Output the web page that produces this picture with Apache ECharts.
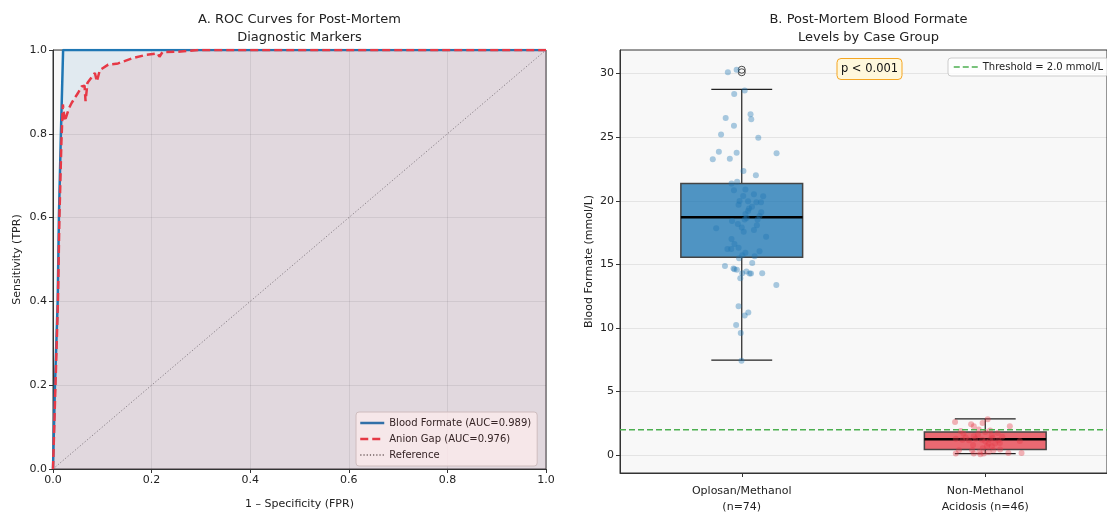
<!DOCTYPE html>
<html>
<head>
<meta charset="utf-8">
<script src="https://cdn.jsdelivr.net/npm/echarts/dist/echarts.min.js"></script>
<style>
html,body{margin:0;padding:0;background:#fff;}
#chart{width:1107px;height:515px;}
</style>
</head>
<body>
<div id="chart"></div>
<script>
// ---------- Data ----------
const rocBlueFormate = [[0,0],[0.004,0.2],[0.0095,0.4],[0.012,0.6],[0.016,0.8],[0.0205,1.0],[1,1]];
const rocRedAnionGap = [[0,0],[0.005,0.2],[0.01,0.4],[0.013,0.6],[0.017,0.78],[0.02,0.87],[0.024,0.83],[0.032,0.86],[0.038,0.874],[0.051,0.898],[0.058,0.913],[0.064,0.915],[0.066,0.878],[0.07,0.922],[0.085,0.945],[0.089,0.925],[0.095,0.952],[0.112,0.965],[0.132,0.968],[0.16,0.98],[0.187,0.988],[0.212,0.992],[0.216,0.984],[0.222,0.995],[0.254,0.996],[0.294,1.0],[1,1]];
const rocReference = [[0,0],[1,1]];
const rocNames = ['Blood Formate (AUC=0.989)','Anion Gap (AUC=0.976)','Reference'];

const groupLabels = ['Oplosan/Methanol\n(n=74)','Non-Methanol\nAcidosis (n=46)'];
const groupPositions = [1,2];
// [position, whiskerLow, Q1, median, Q3, whiskerHigh]
const boxStats = [[1,7.47,15.55,18.71,21.36,28.75],[2,0.13,0.44,1.25,1.83,2.85]];
const outliers = [[1,30.1],[1,30.3]];
const formateTicks = [0,5,10,15,20,25,30];
const thresholdValue = 2.0;
const thresholdName = 'Threshold = 2.0 mmol/L';
const pLabel = 'p < 0.001';

const pointsOplosan = [
[0.943,30.1],[0.979,30.3],[1.012,28.66],[0.969,28.4],[0.934,26.5],[1.036,26.8],[1.039,26.4],[0.968,25.9],
[0.915,25.2],[1.068,24.96],[0.906,23.86],[0.979,23.78],[0.881,23.26],[0.951,23.3],[1.143,23.73],[1.007,22.34],
[1.058,22.0],[0.958,21.35],[0.981,21.5],[0.968,20.83],[1.015,20.88],[1.006,20.38],[1.05,20.52],[1.088,20.36],
[0.991,19.99],[1.026,19.97],[1.06,19.89],[1.079,19.89],[0.987,19.68],[1.042,19.52],[1.026,19.2],[1.08,19.1],
[1.015,18.95],[1.073,18.8],[1.02,18.64],[1.012,18.53],[1.065,18.53],[0.984,18.17],[1.062,18.07],[1.0,17.9],
[0.895,17.83],[1.008,17.57],[1.1,17.17],[0.958,16.99],[0.97,16.6],[0.941,16.2],[0.957,16.2],[0.987,16.3],
[1.015,15.92],[1.073,16.03],[1.002,15.72],[0.989,15.48],[1.053,15.64],[1.043,15.11],[0.931,14.88],[0.966,14.67],
[0.97,14.62],[0.98,14.57],[1.019,14.43],[1.032,14.28],[1.038,14.28],[1.002,14.3],[1.084,14.3],[0.994,13.9],
[1.142,13.37],[0.987,11.7],[1.027,11.22],[1.012,10.99],[0.977,10.23],[0.996,9.6],[0.999,7.42],
[1.03,19.4],[0.96,18.4],[1.05,17.7]
];
const pointsNonMethanol = [
[1.876,2.61],[1.942,2.43],[1.953,2.27],[1.989,2.53],[2.01,2.82],[2.101,2.27],[1.899,1.91],[1.973,2.01],
[2.0,1.83],[2.027,1.57],[2.051,1.75],[1.879,1.3],[1.906,1.22],[1.953,1.49],[2.054,1.17],[2.02,1.22],
[1.933,1.17],[1.96,1.3],[1.987,1.22],[2.014,0.91],[2.04,0.91],[2.027,0.71],[2.007,0.71],[2.142,1.12],
[1.892,0.39],[1.946,0.39],[1.976,0.26],[2.014,0.26],[2.034,0.39],[2.061,0.44],[2.095,0.18],[2.149,0.18],
[1.879,0.13],[1.953,0.13],[1.98,0.08],[1.994,0.13],
[1.92,1.4],[1.97,1.6],[2.0,1.1],[2.03,1.35],[2.07,1.45],[1.99,0.55],[1.95,0.8],[2.06,0.95],[1.91,1.7],[2.02,1.95]
];

// ---------- Styles ----------
const FONT = 'DejaVu Sans';
const BLUE = '#1f77b4';
const RED = '#e63946';
const GREEN = '#4caf50';
const boxFills = ['rgba(31,119,180,0.78)','rgba(230,57,70,0.75)'];

function renderBox(params, api) {
  const x = api.value(0), lo = api.value(1), q1 = api.value(2), med = api.value(3), q3 = api.value(4), hi = api.value(5);
  const hw = 0.25, cw = 0.125;
  const tl = api.coord([x - hw, q3]), br = api.coord([x + hw, q1]);
  const pLo = api.coord([x, lo]), pHi = api.coord([x, hi]);
  const pQ1 = api.coord([x, q1]), pQ3 = api.coord([x, q3]);
  const cl = api.coord([x - cw, lo]), cr = api.coord([x + cw, lo]);
  const ml = api.coord([x - hw, med]), mr = api.coord([x + hw, med]);
  const ws = {stroke:'#222', lineWidth:1.2};
  return {type:'group', children:[
    {type:'line', shape:{x1:pLo[0],y1:pLo[1],x2:pQ1[0],y2:pQ1[1]}, style:ws},
    {type:'line', shape:{x1:pQ3[0],y1:pQ3[1],x2:pHi[0],y2:pHi[1]}, style:ws},
    {type:'line', shape:{x1:cl[0],y1:pLo[1],x2:cr[0],y2:pLo[1]}, style:ws},
    {type:'line', shape:{x1:cl[0],y1:pHi[1],x2:cr[0],y2:pHi[1]}, style:ws},
    {type:'rect', shape:{x:tl[0],y:tl[1],width:br[0]-tl[0],height:br[1]-tl[1]}, style:{fill:boxFills[params.dataIndex], stroke:'#444', lineWidth:1.5}},
    {type:'line', shape:{x1:ml[0],y1:ml[1],x2:mr[0],y2:mr[1]}, style:{stroke:'#000', lineWidth:2.5}}
  ]};
}

const axisText = {fontFamily:FONT, fontSize:11, color:'#222'};
const chart = echarts.init(document.getElementById('chart'), null, {renderer:'canvas'});
chart.setOption({
  backgroundColor:'#fff',
  animation:false,
  textStyle:{fontFamily:FONT},
  title:[
    {text:'A. ROC Curves for Post-Mortem\nDiagnostic Markers', left:299.5, top:11, textAlign:'center', padding:0,
     textStyle:{fontFamily:FONT, fontSize:13, fontWeight:'normal', lineHeight:18, color:'#222'}},
    {text:'B. Post-Mortem Blood Formate\nLevels by Case Group', left:868.5, top:11, textAlign:'center', padding:0,
     textStyle:{fontFamily:FONT, fontSize:13, fontWeight:'normal', lineHeight:18, color:'#222'}},
    {text:pLabel, left:865.5, top:58, textAlign:'center', padding:[3,4,3,4],
     backgroundColor:'#fff8dc', borderColor:'#f5a623', borderWidth:1, borderRadius:4,
     textStyle:{fontFamily:FONT, fontSize:11.5, fontWeight:'normal', lineHeight:16, color:'#111'}}
  ],
  legend:[
    {data:[{name:rocNames[0], lineStyle:{width:2.5}},{name:rocNames[1], lineStyle:{width:2.5}},{name:rocNames[2]}],
     orient:'vertical', left:356, top:412, padding:[6,6,6,3], itemGap:6, itemWidth:24, itemHeight:10,
     backgroundColor:'rgba(255,255,255,0.8)', borderColor:'#ccc', borderWidth:1, borderRadius:3, selectedMode:false,
     itemStyle:{opacity:0},
     textStyle:{fontFamily:FONT, fontSize:10, color:'#222'}},
    {data:[{name:thresholdName, lineStyle:{width:1.5}}], orient:'vertical', left:948, top:58, padding:[4,5,4,5], itemWidth:24, itemHeight:10,
     backgroundColor:'rgba(255,255,255,0.8)', borderColor:'#ccc', borderWidth:1, borderRadius:3, selectedMode:false,
     itemStyle:{opacity:0},
     textStyle:{fontFamily:FONT, fontSize:10, color:'#222'}}
  ],
  grid:[
    {left:53, right:561, top:50, bottom:41, show:true, backgroundColor:'#f8f8f8', borderColor:'#333', borderWidth:1},
    {left:620, right:-10, top:50, bottom:41, show:true, backgroundColor:'#f8f8f8', borderColor:'#333', borderWidth:1}
  ],
  xAxis:[
    {gridIndex:0, type:'value', min:0, max:1, interval:0.2,
     name:'1 – Specificity (FPR)', nameLocation:'middle', nameGap:30, nameTextStyle:axisText,
     axisLine:{show:true, onZero:false, lineStyle:{color:'#333'}}, axisTick:{show:true, length:4, lineStyle:{color:'#333'}},
     axisLabel:{...axisText, margin:6, formatter:v=>v.toFixed(1)},
     splitLine:{show:true, lineStyle:{color:'rgba(0,0,0,0.08)', width:1}}},
    {gridIndex:1, type:'value', min:0.5, max:2.5,
     axisLine:{show:true, onZero:false, lineStyle:{color:'#333'}},
     axisTick:{show:true, length:4, customValues:groupPositions, lineStyle:{color:'#333'}},
     axisLabel:{...axisText, margin:10, lineHeight:16, customValues:groupPositions, formatter:v=>groupLabels[Math.round(v)-1]},
     splitLine:{show:false}}
  ],
  yAxis:[
    {gridIndex:0, type:'value', min:0, max:1, interval:0.2,
     name:'Sensitivity (TPR)', nameLocation:'middle', nameGap:30, nameTextStyle:axisText,
     axisLine:{show:true, onZero:false, lineStyle:{color:'#333'}}, axisTick:{show:true, length:4, lineStyle:{color:'#333'}},
     axisLabel:{...axisText, margin:6, formatter:v=>v.toFixed(1)},
     splitLine:{show:true, lineStyle:{color:'rgba(0,0,0,0.08)', width:1}}},
    {gridIndex:1, type:'value', min:-1.4, max:31.85,
     name:'Blood Formate (mmol/L)', nameLocation:'middle', nameGap:25, nameTextStyle:axisText,
     axisLine:{show:true, onZero:false, lineStyle:{color:'#333'}},
     axisTick:{show:true, length:4, customValues:formateTicks, lineStyle:{color:'#333'}},
     axisLabel:{...axisText, margin:6, customValues:formateTicks},
     splitLine:{show:true, lineStyle:{color:'rgba(0,0,0,0.08)', width:1}}}
  ],
  series:[
    {name:rocNames[0], type:'line', xAxisIndex:0, yAxisIndex:0, data:rocBlueFormate, symbol:'none', z:3,
     lineStyle:{color:BLUE, width:2.5}, itemStyle:{color:BLUE}, areaStyle:{color:BLUE, opacity:0.1}},
    {name:rocNames[1], type:'line', xAxisIndex:0, yAxisIndex:0, data:rocRedAnionGap, symbol:'none', z:4,
     lineStyle:{color:RED, width:2.5, type:[8,4]}, itemStyle:{color:RED}, areaStyle:{color:RED, opacity:0.1}},
    {name:rocNames[2], type:'line', xAxisIndex:0, yAxisIndex:0, data:rocReference, symbol:'none', z:2,
     lineStyle:{color:'#888', width:1, type:[1.2,2]}, itemStyle:{color:'#888'}},
    {type:'custom', xAxisIndex:1, yAxisIndex:1, data:boxStats, renderItem:renderBox, z:2,
     encode:{x:0, y:[1,2,3,4,5]}},
    {type:'scatter', xAxisIndex:1, yAxisIndex:1, data:outliers, symbol:'circle', symbolSize:7, z:3,
     itemStyle:{color:'rgba(0,0,0,0)', borderColor:'#222', borderWidth:1}},
    {type:'scatter', xAxisIndex:1, yAxisIndex:1, data:pointsOplosan, symbolSize:6, z:4,
     itemStyle:{color:BLUE, opacity:0.38}},
    {type:'scatter', xAxisIndex:1, yAxisIndex:1, data:pointsNonMethanol, symbolSize:6, z:4,
     itemStyle:{color:RED, opacity:0.38}},
    {name:thresholdName, type:'line', xAxisIndex:1, yAxisIndex:1, data:[[0.5,thresholdValue],[2.5,thresholdValue]],
     symbol:'none', z:5, lineStyle:{color:GREEN, width:1.5, type:[6,3]}, itemStyle:{color:GREEN}}
  ]
});
</script>
</body>
</html>
